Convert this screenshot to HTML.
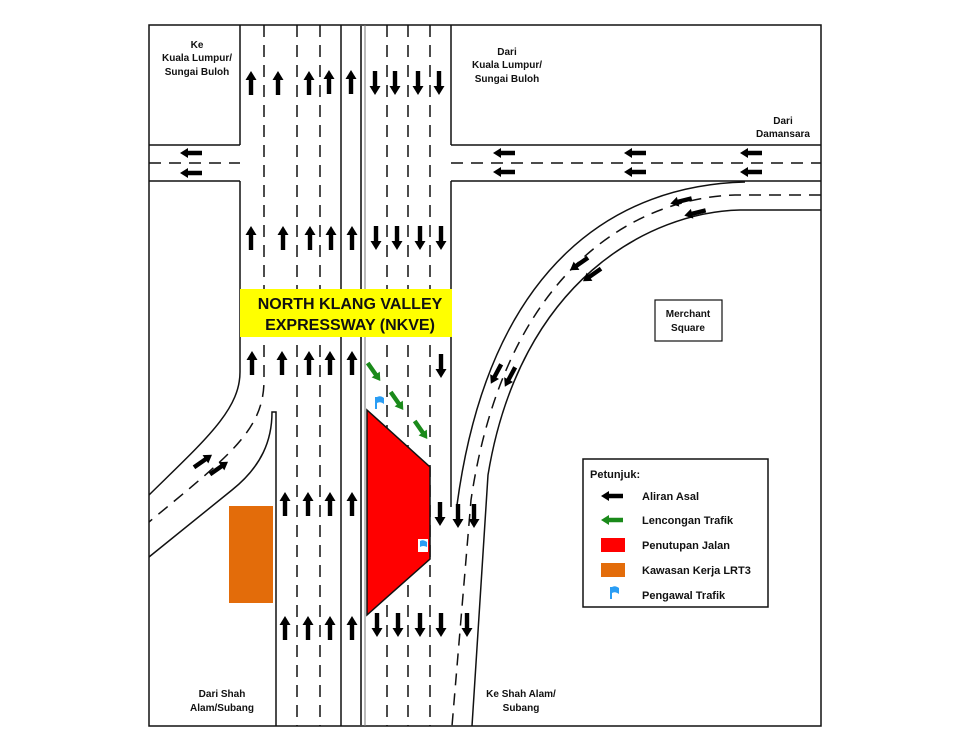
<!DOCTYPE html>
<html><head><meta charset="utf-8"><style>
html,body{margin:0;padding:0;background:#fff;}
svg{display:block;}
text{font-family:"Liberation Sans",sans-serif;font-weight:bold;fill:#111;}
</style></head><body>
<svg width="960" height="750" viewBox="0 0 960 750" xmlns="http://www.w3.org/2000/svg">
<defs>
<path id="up" d="M0,-12 L5.5,-3 L2.2,-3 L2.2,12 L-2.2,12 L-2.2,-3 L-5.5,-3 Z" fill="#000"/>
<path id="lt" d="M-11,0 L-3,-5 L-3,-2.2 L11,-2.2 L11,2.2 L-3,2.2 L-3,5 Z" fill="#000"/>
<path id="ltg" d="M-11,0 L-3,-5 L-3,-2.2 L11,-2.2 L11,2.2 L-3,2.2 L-3,5 Z" fill="#1a8a1a"/>
</defs>
<rect x="0" y="0" width="960" height="750" fill="#fff"/>
<g stroke="#111" stroke-width="1.5" fill="none">
<rect x="149" y="25" width="672" height="701"/>
<line x1="149" y1="145" x2="240" y2="145"/>
<line x1="149" y1="181" x2="240" y2="181"/>
<line x1="451" y1="145" x2="821" y2="145"/>
<line x1="451" y1="181" x2="821" y2="181"/>
<path d="M240,25 L240,145 M240,181 L240,372 C240,410 205,440 149,495"/>
<path d="M149,557 L232,490 C262,466 272,440 272,412 L276,412 L276,726"/>
<line x1="341" y1="25" x2="341" y2="726"/>
<line x1="361" y1="25" x2="361" y2="726" stroke="#444" stroke-width="2"/>
<line x1="365" y1="25" x2="365" y2="726" stroke="#777" stroke-width="1"/>
<path d="M451,25 L451,145 M451,181 L451,507"/>
<path d="M745,182 C620,185 490,260 457,505"/>
<path d="M821,210 L740,210 C650,212 520,280 488,475 L472,726"/>
</g>
<g stroke="#111" stroke-width="1.5" fill="none" stroke-dasharray="12,8">
<line x1="149" y1="163" x2="240" y2="163"/>
<line x1="451" y1="163" x2="821" y2="163"/>
<path d="M264,25 L264,380 C264,430 230,455 149,522"/>
<line x1="297" y1="25" x2="297" y2="726"/>
<line x1="320" y1="25" x2="320" y2="726"/>
<line x1="387" y1="25" x2="387" y2="726"/>
<line x1="408" y1="25" x2="408" y2="726"/>
<line x1="430" y1="25" x2="430" y2="726"/>
<path d="M821,195 L735,195 C635,198 505,270 471,500 L452,726"/>
</g>
<rect x="240" y="289" width="212" height="48" fill="#ffff00"/>
<text x="350" y="309" font-size="16" text-anchor="middle">NORTH KLANG VALLEY</text>
<text x="350" y="330" font-size="16" text-anchor="middle">EXPRESSWAY (NKVE)</text>
<polygon points="367,410 430,467 430,559 367,615" fill="#ff0000" stroke="#111" stroke-width="1.5"/>
<rect x="229" y="506" width="44" height="97" fill="#e36c0a"/>
<g>
<rect x="375" y="397" width="2" height="12" fill="#2a9df4"/>
<path d="M377,397 Q380,395 384,398 L384,404 Q380,401 377,403 Z" fill="#2a9df4"/>
<rect x="418" y="539" width="10" height="13" fill="#fff"/>
<path d="M420,541 Q423,539 427,542 L427,547 Q423,545 420,547 Z" fill="#2a9df4"/>
</g>
<g>
<use href="#up" x="251" y="83"/><use href="#up" x="278" y="83"/><use href="#up" x="309" y="83"/><use href="#up" x="329" y="82"/><use href="#up" x="351" y="82"/>
<use href="#up" x="251" y="238"/><use href="#up" x="283" y="238"/><use href="#up" x="310" y="238"/><use href="#up" x="331" y="238"/><use href="#up" x="352" y="238"/>
<use href="#up" x="252" y="363"/><use href="#up" x="282" y="363"/><use href="#up" x="309" y="363"/><use href="#up" x="330" y="363"/><use href="#up" x="352" y="363"/>
<use href="#up" x="285" y="504"/><use href="#up" x="308" y="504"/><use href="#up" x="330" y="504"/><use href="#up" x="352" y="504"/>
<use href="#up" x="285" y="628"/><use href="#up" x="308" y="628"/><use href="#up" x="330" y="628"/><use href="#up" x="352" y="628"/>
</g>
<g>
<use href="#up" transform="translate(375,83) rotate(180)"/><use href="#up" transform="translate(395,83) rotate(180)"/><use href="#up" transform="translate(418,83) rotate(180)"/><use href="#up" transform="translate(439,83) rotate(180)"/>
<use href="#up" transform="translate(376,238) rotate(180)"/><use href="#up" transform="translate(397,238) rotate(180)"/><use href="#up" transform="translate(420,238) rotate(180)"/><use href="#up" transform="translate(441,238) rotate(180)"/>
<use href="#up" transform="translate(441,366) rotate(180)"/>
<use href="#up" transform="translate(440,514) rotate(180)"/><use href="#up" transform="translate(458,516) rotate(180)"/><use href="#up" transform="translate(474,516) rotate(180)"/>
<use href="#up" transform="translate(377,625) rotate(180)"/><use href="#up" transform="translate(398,625) rotate(180)"/><use href="#up" transform="translate(420,625) rotate(180)"/><use href="#up" transform="translate(441,625) rotate(180)"/><use href="#up" transform="translate(467,625) rotate(180)"/>
</g>
<g>
<use href="#lt" x="191" y="153"/><use href="#lt" x="191" y="173"/>
<use href="#lt" x="504" y="153"/><use href="#lt" x="504" y="172"/>
<use href="#lt" x="635" y="153"/><use href="#lt" x="635" y="172"/>
<use href="#lt" x="751" y="153"/><use href="#lt" x="751" y="172"/>
<use href="#lt" transform="translate(681,201) rotate(-14)"/><use href="#lt" transform="translate(695,213) rotate(-14)"/>
<use href="#lt" transform="translate(579,264) rotate(-35)"/><use href="#lt" transform="translate(592,275) rotate(-35)"/>
<use href="#lt" transform="translate(496,374) rotate(-62)"/><use href="#lt" transform="translate(510,377) rotate(-62)"/>
<use href="#lt" transform="translate(203,461) rotate(145)"/><use href="#lt" transform="translate(219,468) rotate(145)"/>
</g>
<g>
<use href="#ltg" transform="translate(374,372) rotate(-125)"/>
<use href="#ltg" transform="translate(397,401) rotate(-125)"/>
<use href="#ltg" transform="translate(421,430) rotate(-125)"/>
</g>
<rect x="655" y="300" width="67" height="41" fill="none" stroke="#111" stroke-width="1.2"/>
<text x="688" y="317" font-size="10" text-anchor="middle">Merchant</text>
<text x="688" y="331" font-size="10" text-anchor="middle">Square</text>
<g font-size="10" text-anchor="middle">
<text x="197" y="48" text-anchor="middle">Ke</text>
<text x="197" y="61" text-anchor="middle">Kuala Lumpur/</text>
<text x="197" y="75" text-anchor="middle">Sungai Buloh</text>
<text x="507" y="55" text-anchor="middle">Dari</text>
<text x="507" y="68" text-anchor="middle">Kuala Lumpur/</text>
<text x="507" y="82" text-anchor="middle">Sungai Buloh</text>
<text x="783" y="124" text-anchor="middle">Dari</text>
<text x="783" y="137" text-anchor="middle">Damansara</text>
<text x="222" y="697" text-anchor="middle">Dari Shah</text>
<text x="222" y="711" text-anchor="middle">Alam/Subang</text>
<text x="521" y="697" text-anchor="middle">Ke Shah Alam/</text>
<text x="521" y="711" text-anchor="middle">Subang</text>
</g>
<rect x="583" y="459" width="185" height="148" fill="#fff" stroke="#111" stroke-width="1.5"/>
<text x="590" y="478" font-size="11">Petunjuk:</text>
<use href="#lt" x="612" y="496"/>
<text x="642" y="500" font-size="11">Aliran Asal</text>
<use href="#ltg" x="612" y="520"/>
<text x="642" y="524" font-size="11">Lencongan Trafik</text>
<rect x="601" y="538" width="24" height="14" fill="#ff0000"/>
<text x="642" y="549" font-size="11">Penutupan Jalan</text>
<rect x="601" y="563" width="24" height="14" fill="#e36c0a"/>
<text x="642" y="574" font-size="11">Kawasan Kerja LRT3</text>
<rect x="610" y="587" width="2" height="12" fill="#2a9df4"/>
<path d="M612,587 Q615,585 619,588 L619,594 Q615,591 612,593 Z" fill="#2a9df4"/>
<text x="642" y="599" font-size="11">Pengawal Trafik</text>
</svg>
</body></html>
